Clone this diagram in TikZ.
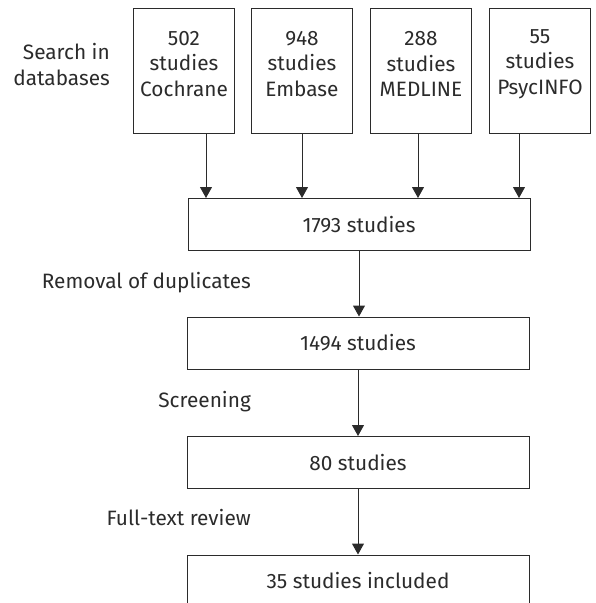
\documentclass[tikz,border=0pt]{standalone}
\usepackage{fontspec}
\setmainfont{Fira Sans}
\usetikzlibrary{arrows.meta,calc}
\definecolor{ink}{HTML}{2B2B2B}
\begin{document}
\begin{tikzpicture}[x=1pt,y=-1pt,
  every node/.style={text=ink,font=\fontsize{20.8}{25.5}\selectfont},
  topbox/.style={draw=ink,line width=1pt,minimum width=101pt,minimum height=125pt,inner sep=0pt,anchor=north west},
  midbox/.style={draw=ink,line width=1pt,minimum width=342pt,minimum height=52pt,inner sep=0pt},
  boxtext/.style={align=center,inner sep=0pt},
  lbl/.style={align=right,inner sep=0pt,anchor=east},
  arr/.style={draw=ink,line width=1pt,-{Triangle[width=12pt,length=11pt]}}]
\useasboundingbox (0,0) rectangle (595,603);
% top database boxes
\node[topbox] (b1) at (133,8) {};
\node[topbox] (b2) at (251,8) {};
\node[topbox] (b3) at (370,8) {};
\node[topbox] (b4) at (489,8) {};
\node[boxtext] (t1) at ($(b1.center)+(0,-7)$) {502\\studies\\Cochrane};
\node[boxtext] (t2) at ($(b2.center)+(0,-7)$) {948\\studies\\Embase};
\node[boxtext] (t3) at ($(b3.center)+(0,-7)$) {288\\studies\\MEDLINE};
\node[boxtext] (t4) at ($(b4.center)+(0,-7)$) {55\\studies\\PsycINFO};
\node[lbl] (l0) at (110,64.5) {Search in\\databases};
% stage boxes
\node[midbox] (m1) at (359,224.25) {1793 studies};
\node[midbox] (m2) at (358,343) {1494 studies};
\node[midbox] (m3) at (358,462.5) {80 studies};
\node[midbox] (m4) at (358,581) {35 studies included};
% stage labels
\node[lbl] (l1) at (251,283) {Removal of duplicates};
\node[lbl] (l2) at (251,402) {Screening};
\node[lbl] (l3) at (251,518) {Full-text review};
% arrow ends on the 1793 box
\coordinate (e1) at (206,198);
\coordinate (e2) at (302,198);
\coordinate (e3) at (418,198);
\coordinate (e4) at (519,198);
\draw[arr] (e1 |- b1.south) -- (e1);
\draw[arr] (e2 |- b2.south) -- (e2);
\draw[arr] (e3 |- b3.south) -- (e3);
\draw[arr] (e4 |- b4.south) -- (e4);
\draw[arr] (m1.south) -- (m1.south |- m2.north);
\draw[arr] (m2.south) -- (m3.north);
\draw[arr] (m3.south) -- (m4.north);
\end{tikzpicture}
\end{document}
